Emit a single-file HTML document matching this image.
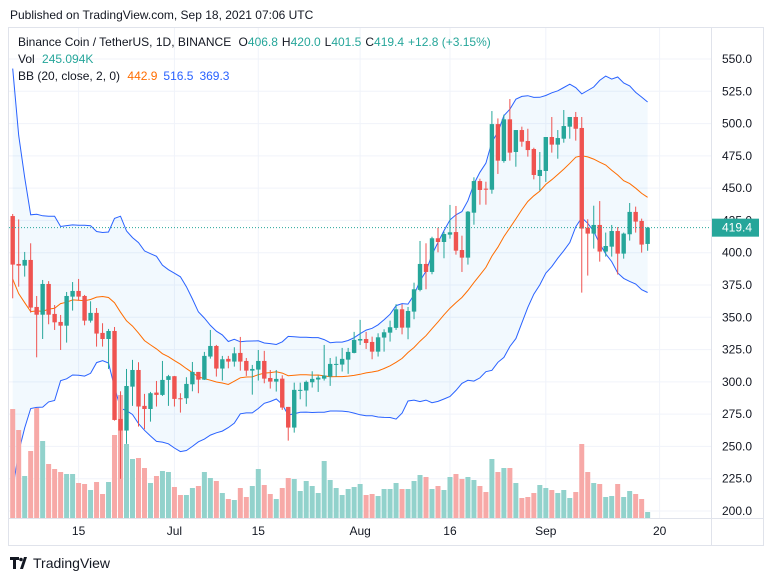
<!DOCTYPE html>
<html><head><meta charset="utf-8"><style>
html,body{margin:0;padding:0;background:#fff;}
body{width:772px;height:581px;overflow:hidden;font-family:"Liberation Sans",sans-serif;}
svg{display:block}
text{font-family:"Liberation Sans",sans-serif;}
</style></head><body>
<svg id="chart" width="772" height="581" viewBox="0 0 772 581">
<text x="10" y="19" font-size="12" fill="#131722">Published on TradingView.com, Sep 18, 2021 07:06 UTC</text>
<rect x="8.5" y="27.5" width="755" height="518" fill="#fff" stroke="#e0e3eb"/>
<g id="grid"></g>
<g id="bb"></g>
<g id="vol"></g>
<g id="candles"></g>
<g id="axes"></g>
<g font-size="12">
<text x="18" y="46" fill="#131722">Binance Coin / TetherUS, 1D, BINANCE <tspan dx="4">O</tspan><tspan fill="#26a69a">406.8</tspan><tspan dx="4">H</tspan><tspan fill="#26a69a">420.0</tspan><tspan dx="4">L</tspan><tspan fill="#26a69a">401.5</tspan><tspan dx="4">C</tspan><tspan fill="#26a69a">419.4</tspan><tspan dx="4" fill="#26a69a">+12.8 (+3.15%)</tspan></text>
<text x="18" y="63" fill="#131722">Vol <tspan dx="4" fill="#26a69a">245.094K</tspan></text>
<text x="18" y="80" fill="#131722">BB (20, close, 2, 0) <tspan dx="4" fill="#ff6d00">442.9</tspan><tspan dx="6" fill="#2962ff">516.5</tspan><tspan dx="6" fill="#2962ff">369.3</tspan></text>
</g>
<g>
<path d="M10 557h9v3h-3v9h-3v-9h-3z M20 569l4-12h3l-4 12z" fill="#131722"/>
<circle cx="21" cy="559.5" r="1.8" fill="#131722"/>
<text x="33" y="568" font-size="14" fill="#131722">TradingView</text>
</g>
</svg>
<script>
const opens=[428.4,391.3,390,394.4,358,352,375.8,352.6,346.4,343.5,366,370.4,366.5,347.4,353.4,337.9,333.2,339.4,271.3,262.3,296.3,309.2,281.4,279,291.7,289.9,301.5,304.4,287.3,287.3,298.1,307.7,301.7,319.6,327.8,310.3,317.8,315.7,322.4,316.2,308.7,309.5,316.2,303,300.2,302.5,280.6,264.6,293.8,293.3,299.7,301.8,302.5,304.1,313.4,313.4,317.2,322.4,332,333.2,330.9,323.4,334.3,338.1,341.8,356.2,342,354.4,371.2,391.3,385.1,411.2,408.3,414,416,402.1,396.2,431,455.5,449.6,448.8,499.6,471,503.3,478,495,486.5,480.3,459.4,463.3,489.6,483.7,488.3,497.6,505.1,496.6,419.4,414.8,421.5,400.9,404.7,416.8,399.3,414.3,431.6,424.6,406.8];
const highs=[430,425.8,400.6,407.3,366.5,378.9,378,359.5,351.8,369.6,377.3,379.7,367.3,362.4,357.2,345.4,341,342.5,292.7,310,317,315.2,290.7,292.2,300.7,316.2,305.4,304.6,291.2,303.6,315.4,307.7,323.2,340.2,328.6,320.1,320.1,326.8,334.8,318.5,313.1,324.7,324,309.2,309.2,305.1,280.6,299.4,299.4,301,308.2,304.9,328.6,318.5,319.6,326.3,326.3,338.7,348,338.7,335,337.6,340.7,347.4,360.1,360.1,358,376.8,409.1,407.3,412.4,419.4,416.3,437,436.2,413.2,432.3,458.4,457.3,455,509.7,504,506.9,519,495,497.6,496,481.3,478,489.6,505.1,495,510.5,505.1,509,505.1,425.9,436.4,440,415.6,421.5,419.9,415.6,438.5,435.7,426.4,420.0];
const lows=[364.7,373.7,381.5,353.6,319,333.2,344.6,340.2,324.7,330.4,355.2,362.9,343.8,345.9,327.3,327.3,310,270,224.9,252,281.4,265.4,263.3,269.2,280.9,289.1,281.4,280.9,276.2,282.9,292.7,291.2,301.5,318,304.1,301,310.5,311.8,308.7,304.6,290.1,301,298.9,294.8,292.5,278.3,254.5,260.7,286.5,280.9,295.6,292.2,301,296.9,304.1,308,306.2,322.1,328.6,325.5,317.5,319.6,323.4,331.2,340.2,336.8,333,348.5,370.1,371.7,383.3,400.3,395.7,410.9,398.5,385.1,390.8,421.7,437.2,437.2,445.7,461,469.7,471.3,466.6,482.1,474.4,456.8,448.1,454.8,477.5,472.8,485.2,488.3,486.8,369.1,382.3,403.2,393.1,397,397,383.1,395.4,409.4,415.6,400.1,401.5];
const closes=[390.8,390,394.4,357.5,352,375.8,352,346.1,343.5,366.5,370.4,366,347.4,353.4,337.4,333.2,339.4,270.5,262.3,296.8,309.2,280.9,279,291.2,289.9,301.5,304.4,286.8,286.8,298.4,307.7,301.7,320.1,327.8,310.3,317.5,315.7,322.1,315.7,308.7,310,316.2,302.5,300.2,302.3,280.1,264.6,293.8,293.8,300,302.3,303.3,304.9,313.9,313.9,317.8,323.2,332.5,333.2,330.1,323.4,334.5,338.4,342.3,356.2,342,354.9,371.7,391.3,385.1,411.2,408.3,414.5,415.8,401.6,396.2,431.8,455.5,448.6,448.8,499.6,471.3,503.3,477.5,495,486,479.5,460.2,464.1,489.6,483.7,488.8,498.1,505.1,496,418.7,414.8,421.5,400.9,405.2,416.8,399.3,414.8,431.6,424.1,406.3,419.4];
const volumes=[436,352,168,268,440,308,216,196,184,176,176,140,136,112,144,96,144,332,492,296,236,240,200,140,168,188,184,124,92,92,120,128,184,160,148,100,76,72,120,84,128,196,132,96,76,120,160,156,108,148,128,100,228,152,120,92,116,124,136,92,96,88,116,116,140,116,116,148,172,164,116,128,112,164,176,156,164,152,128,104,236,184,200,200,140,80,84,100,132,120,112,100,112,80,104,296,184,140,136,84,88,136,84,108,96,76,24];
const priorCloses=[615,535,495,340,385,315,335,270,345,335,370,355,335,300,325,355,350,410,430];
const priceTicks=[550,525,500,475,450,425,400,375,350,325,300,275,250,225,200];
const timeLabels=["15","Jul","15","Aug","16","Sep","20"];
const timeLabelIdx=[11,27,41,58,73,89,108];
const lastPrice=419.4;

const NS="http://www.w3.org/2000/svg";
const X=i=>12.7+5.99*i;
const Y=p=>511-(p-200)*1.2914;
const VY=v=>518-v*0.25;
const R=711, T=28, B=518;
function mk(tag,attrs,parent){const e=document.createElementNS(NS,tag);for(const k in attrs)e.setAttribute(k,attrs[k]);parent.appendChild(e);return e;}
const grid=document.getElementById('grid'),axes=document.getElementById('axes'),bb=document.getElementById('bb'),vol=document.getElementById('vol'),cg=document.getElementById('candles');

priceTicks.forEach(p=>{
  const ln=mk('line',{x1:9,x2:R,y1:Y(p),y2:Y(p),stroke:'#f0f3fa','stroke-width':1},grid);
  
  
  const t=mk('text',{x:722,y:Y(p)+4,'font-size':12,fill:'#131722'},axes);
  t.textContent=p.toFixed(1);
  
  
});
timeLabels.forEach((s,k)=>{
  const x=X(timeLabelIdx[k]);
  const ln=mk('line',{x1:x,x2:x,y1:T,y2:B,stroke:'#f0f3fa','stroke-width':1},grid);
  
  
  const t=mk('text',{x:x,y:535,'font-size':12,fill:'#131722','text-anchor':'middle'},axes);
  t.textContent=s;
  
  
});
const ax1=mk('line',{x1:R+0.5,x2:R+0.5,y1:T,y2:546,stroke:'#e0e3eb'},axes);


const ax2=mk('line',{x1:9,x2:763,y1:B+0.5,y2:B+0.5,stroke:'#e0e3eb'},axes);



const all=priorCloses.concat(closes);
const up=[],mid=[],lo=[];
for(let i=0;i<closes.length;i++){
  const w=all.slice(i,i+20);
  const m=w.reduce((a,b)=>a+b,0)/20;
  const sd=Math.sqrt(w.reduce((a,b)=>a+(b-m)*(b-m),0)/20);
  mid.push(m);up.push(m+2*sd);lo.push(m-2*sd);
}
const clampY=p=>Math.max(T,Y(p));
const pts=a=>a.map((v,i)=>X(i).toFixed(1)+','+clampY(v).toFixed(1));
const fill=mk('polygon',{points:pts(up).concat(pts(lo).reverse()).join(' '),fill:'rgba(33,150,243,0.06)'},bb);


const u=mk('polyline',{points:pts(up).join(' '),fill:'none',stroke:'#2962ff','stroke-width':1},bb);


const md=mk('polyline',{points:pts(mid).join(' '),fill:'none',stroke:'#ff6d00','stroke-width':1},bb);


const lw=mk('polyline',{points:pts(lo).join(' '),fill:'none',stroke:'#2962ff','stroke-width':1},bb);



volumes.forEach((v,i)=>{
  const g=closes[i]>=opens[i];
  const r=mk('rect',{x:X(i)-2.5,y:VY(v),width:5,height:B-VY(v),fill:g?'#92d2cc':'#f7a9a7'},vol);
  
  
});
closes.forEach((c,i)=>{
  const o=opens[i],g=c>=o,col=g?'#26a69a':'#ef5350',x=X(i);
  const w=mk('line',{x1:x,x2:x,y1:Y(highs[i]),y2:Y(lows[i]),stroke:col,'stroke-width':1},cg);
  
  
  const top=Y(Math.max(o,c)),h=Math.max(1,Math.abs(Y(o)-Y(c)));
  const b=mk('rect',{x:x-2.2,y:top,width:4.4,height:h,fill:col},cg);
  
  
});
const ly=Y(lastPrice);
const pl=mk('line',{x1:9,x2:R,y1:ly,y2:ly,stroke:'#26a69a','stroke-width':1,'stroke-dasharray':'1 2'},axes);


const tag=mk('rect',{x:712,y:ly-9,width:47,height:18,fill:'#26a69a'},axes);


const tt=mk('text',{x:722,y:ly+4,'font-size':12,fill:'#fff'},axes);
tt.textContent=lastPrice.toFixed(1);


</script>
</body></html>
